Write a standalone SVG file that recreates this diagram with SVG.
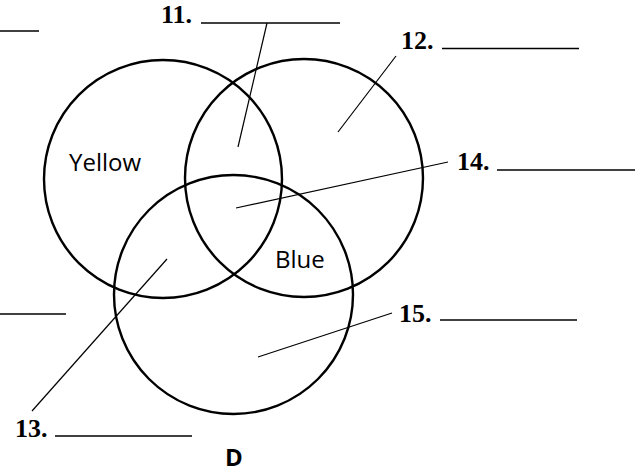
<svg xmlns="http://www.w3.org/2000/svg" width="638" height="473" viewBox="0 0 638 473">
<style>
.circ{fill:none;stroke:#000;stroke-width:2.4}
.lead{stroke:#000;stroke-width:1.2;fill:none}
.ul{stroke:#000;stroke-width:1.6;fill:none}
.num{font-family:"Liberation Serif",serif;font-weight:bold;font-size:26px;fill:#000}
.lbl{font-family:"Open Sans","Noto Sans",sans-serif;font-size:24px;fill:#000}
.title{font-family:"Open Sans","Noto Sans",sans-serif;font-weight:bold;font-size:24px;fill:#000}
</style>
<rect width="638" height="473" fill="#fff"/>
<g id="yellow"><circle class="circ" cx="163" cy="179" r="119"/><text class="lbl" x="69" y="171">Yellow</text></g>
<g id="blue"><circle class="circ" cx="304" cy="178" r="119"/><text class="lbl" x="275" y="268">Blue</text></g>
<g id="third"><circle class="circ" cx="233.5" cy="294.5" r="119.5"/></g>
<g id="label11"><text class="num" x="161" y="23">11.</text><line class="ul" x1="201" y1="23" x2="340" y2="23"/></g>
<g id="label12"><text class="num" x="401" y="49">12.</text><line class="ul" x1="442" y1="48.5" x2="579" y2="48.5"/></g>
<g id="label14"><text class="num" x="457" y="170">14.</text><line class="ul" x1="497" y1="170" x2="635" y2="170"/></g>
<g id="label15"><text class="num" x="399" y="322">15.</text><line class="ul" x1="440" y1="320" x2="577" y2="320"/></g>
<g id="label13"><text class="num" x="15" y="437">13.</text><line class="ul" x1="55" y1="436" x2="192" y2="436"/></g>
<g id="blankTL"><line class="ul" x1="0" y1="31" x2="39" y2="31"/></g>
<g id="blankL"><line class="ul" x1="0" y1="314" x2="66" y2="314"/></g>
<g id="connectors">
<line class="lead" x1="267" y1="23" x2="238" y2="147"/>
<line class="lead" x1="396" y1="56" x2="338" y2="132"/>
<line class="lead" x1="448" y1="162" x2="236" y2="208"/>
<line class="lead" x1="392" y1="313" x2="258" y2="357"/>
<line class="lead" x1="32" y1="411" x2="167" y2="259"/>
</g>
<text class="title" x="225" y="466">D</text>
</svg>
